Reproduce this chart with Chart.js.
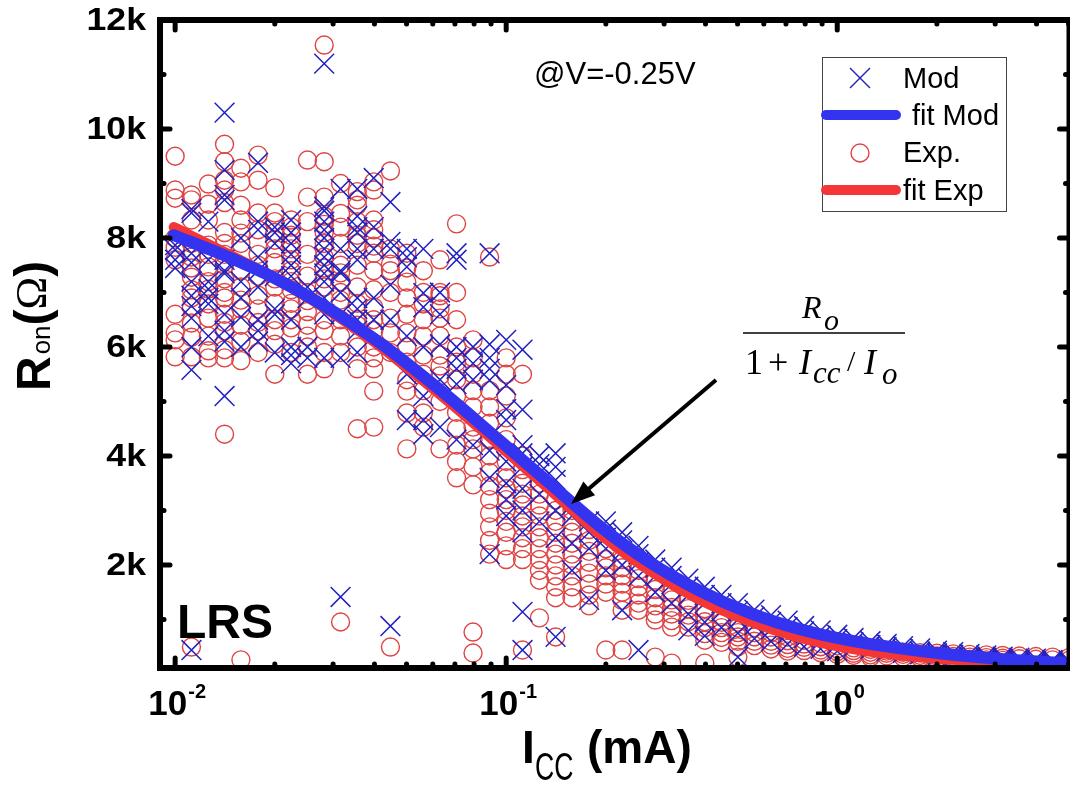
<!DOCTYPE html>
<html>
<head>
<meta charset="utf-8">
<script src="https://cdn.jsdelivr.net/npm/chart.js@4.4.1/dist/chart.umd.min.js"></script>
<style>
  html, body { margin: 0; padding: 0; background: #fff; overflow: hidden; }
  #wrap { width: 1085px; height: 785px; }
</style>
</head>
<body>
<div id="wrap"><canvas id="myChart" width="1085" height="785"></canvas></div>
<script>
// compliance currents (mA), one column of measurements each
const currents = [0.0100, 0.0112, 0.0126, 0.0141, 0.0158, 0.0178, 0.0200, 0.0224, 0.0251, 0.0282,
  0.0316, 0.0355, 0.0398, 0.0447, 0.0501, 0.0562, 0.0631, 0.0708, 0.0794, 0.0891,
  0.100, 0.112, 0.126, 0.141, 0.158, 0.178, 0.200, 0.224, 0.251, 0.282,
  0.316, 0.355, 0.398, 0.447, 0.501, 0.562, 0.631, 0.708, 0.794, 0.891,
  1.00, 1.12, 1.26, 1.41, 1.58, 1.78, 2.00, 2.24, 2.51, 2.82,
  3.16, 3.55, 3.98, 4.47, 5.01];

// Ron (ohm) of the model, per current column
const modR = [
  [7870, 7780, 7600, 7450],
  [8530, 8460, 7720, 7550, 7200, 6940, 6750, 6530, 6000, 5580, 440],
  [8300, 7600, 7200, 7060, 6900, 6790, 6200],
  [10300, 9250, 8790, 8700, 7600, 7400, 7350, 6600, 6300, 6100, 5100],
  [8000, 7200, 6900, 6550, 6000],
  [9380, 8300, 8150, 7650, 7400, 7100, 6500, 6300, 6100],
  [8200, 8100, 7900, 7300, 6700, 6600, 5900],
  [8330, 8100, 7900, 7700, 7500, 7300, 6500, 6000, 5850, 5700],
  [7100, 6900, 6000, 5800],
  [11200, 8570, 8500, 8300, 8150, 8000, 7800, 7650, 7500, 7350, 7200, 6900, 6600, 5800],
  [8900, 7800, 7400, 7360, 7000, 6600, 5800, 1413],
  [8900, 8400, 8200, 8100, 7800, 7600, 6900, 6700, 6500, 6300, 5900],
  [9100, 8200, 7800, 6900, 6500],
  [8660, 7930, 7800, 7140, 6500, 880],
  [7800, 7650, 7470, 6200, 5500, 4660],
  [7800, 6990, 6730, 6000, 5100, 4660, 4400],
  [7000, 6600, 6050, 5400, 4530],
  [7720, 7600, 6000, 5800, 5600, 5320, 4300],
  [6000, 5700, 5400, 4200],
  [7720, 6050, 5800, 5600, 5390, 4100, 3600, 2200],
  [6130, 5300, 4860, 4660, 3900, 3500, 3200, 2900],
  [5950, 4850, 4200, 4050, 3800, 3400, 3000, 2600, 1140, 440],
  [4000, 3850, 3690, 3300, 2800],
  [4050, 3800, 3560, 3000, 2500, 680],
  [3100, 2900, 2400, 1900],
  [2800, 2600, 2300, 1360],
  [2800, 2650, 2500, 2300, 1900],
  [2600, 2450, 2250, 2000, 1170],
  [2350, 2200, 2050, 1800, 440],
  [2100, 1950, 1800, 1500],
  [1950, 1800, 1650, 1300],
  [1750, 1600, 1450, 1100, 800],
  [1600, 1450, 1300, 950, 700],
  [1450, 1300, 1150, 850],
  [1300, 1150, 1000, 750, 310],
  [1180, 1050, 900, 650],
  [1080, 950, 820, 600],
  [980, 860, 740, 550],
  [880, 780, 660, 500],
  [800, 700, 600, 460],
  [720, 640, 550, 420],
  [660, 580, 500],
  [600, 530, 460],
  [550, 490, 420],
  [510, 450, 390],
  [470, 410, 360],
  [430, 380, 330],
  [400, 350, 300],
  [370, 320, 280],
  [340, 300, 260],
  [320, 280, 240],
  [300, 260, 230],
  [280, 240, 210],
  [260, 230, 200],
  [250, 220, 190]
];

// Ron (ohm) measured, per current column
const expR = [
  [9500, 8880, 8730, 8000, 7830, 7600, 6600, 6260, 6130, 5820],
  [8790, 8700, 8330, 7900, 7650, 7450, 7280, 7050, 6900, 6730, 6440, 6180, 5820, 495],
  [8990, 8620, 8330, 7870, 7700, 7470, 7200, 7060, 6790, 6530, 6200, 5930, 5800],
  [9720, 9400, 9060, 8880, 8650, 8100, 7900, 7700, 7500, 7250, 7000, 6900, 6600, 6450, 6300, 5950, 5800, 4400],
  [9280, 9030, 8600, 8330, 8090, 7900, 7400, 7100, 6860, 6700, 6400, 6100, 5750, 260],
  [9520, 9060, 8460, 8150, 7700, 7500, 7300, 6950, 6700, 6450, 6300, 5900],
  [8920, 8460, 8300, 8100, 7960, 7800, 7550, 7250, 7100, 6800, 6500, 6300, 6050, 5500],
  [8330, 8200, 8050, 7900, 7800, 7600, 7400, 7200, 7050, 6800, 6700, 6500, 6350, 5900],
  [9430, 8750, 8300, 7700, 7300, 7000, 6850, 6650, 6400, 6200, 6000, 5500],
  [11540, 9400, 8750, 8400, 8250, 8100, 7900, 7650, 7450, 7250, 7100, 6500, 6300, 5900, 5600],
  [9000, 8450, 8200, 7900, 7500, 7360, 7200, 7000, 6860, 6500, 6200, 5900, 954],
  [8850, 8700, 8600, 8300, 8050, 7900, 7500, 7100, 6800, 6500, 6400, 6000, 5600, 4500],
  [9030, 8880, 8330, 8150, 8000, 7850, 7720, 7400, 7050, 6730, 6500, 6300, 6000, 5800, 5600, 5190, 4530],
  [9230, 7800, 7520, 7400, 7000, 6530, 6260, 5900, 495],
  [7720, 7450, 7190, 6900, 6600, 6260, 6000, 5720, 5400, 5190, 4790, 4130],
  [7400, 7000, 6790, 6500, 6200, 5850, 5500, 5200, 4790, 4530],
  [7600, 7000, 6940, 6700, 6530, 6200, 5850, 5650, 5470, 5000, 4130],
  [8260, 7000, 6500, 6000, 5720, 5400, 5100, 4800, 4500, 4200, 3900, 3600],
  [6130, 5800, 5500, 5200, 4900, 4530, 4300, 4130, 3800, 3470, 770, 385],
  [7650, 5200, 4900, 4600, 4300, 4000, 3700, 3450, 3200, 2950, 2700, 2450, 2200],
  [5800, 5500, 5100, 4700, 4300, 3900, 3600, 3400, 3200, 3000, 2800, 2600, 2350, 2100],
  [5500, 4000, 3750, 3500, 3300, 3100, 2900, 2700, 2500, 2300, 2100, 440],
  [3500, 3300, 3100, 2900, 2700, 2500, 2300, 2100, 1900, 1720, 1030],
  [3200, 3000, 2800, 2600, 2400, 2200, 2000, 1800, 1600, 1400, 680],
  [3000, 2800, 2600, 2400, 2200, 2000, 1800, 1600, 1400],
  [2650, 2450, 2250, 2050, 1850, 1650, 1450, 1250],
  [2300, 2100, 1950, 1800, 1650, 1500, 440],
  [2100, 1950, 1800, 1650, 1500, 1350, 1170, 440],
  [1900, 1750, 1600, 1450, 1300, 1170],
  [1700, 1550, 1400, 1250, 1100, 990, 310],
  [1500, 1360, 1220, 1100, 980, 860, 200],
  [1350, 1200, 1080, 960, 860],
  [1200, 1080, 960, 850, 740, 620, 200],
  [1050, 950, 850, 760, 670, 580],
  [950, 850, 760, 680, 600, 500, 310],
  [850, 760, 680, 600, 520],
  [760, 680, 600, 530, 460],
  [680, 610, 540, 470, 420],
  [620, 550, 490, 430],
  [560, 500, 440, 390],
  [520, 460, 410, 360],
  [480, 430, 380, 340],
  [450, 400, 350, 310],
  [420, 380, 330],
  [400, 360, 310],
  [390, 340, 300],
  [380, 330, 290],
  [370, 320, 280],
  [360, 310, 270],
  [350, 300, 260],
  [340, 290, 250],
  [330, 280],
  [320, 270],
  [310, 260],
  [300, 250]
];

// fitted curves
const fitI = [0.0099, 0.0143, 0.0203, 0.0287, 0.0395, 0.0476, 0.0673, 0.0907, 0.135, 0.191,
  0.270, 0.381, 0.539, 0.763, 1.08, 1.53, 2.31, 4.63, 5.0];
const fitModR = [8050, 7664, 7242, 6728, 6171, 5809, 5075, 4404, 3505, 2720,
  2060, 1540, 1130, 830, 620, 475, 345, 205, 198];
const fitExpR = [8200, 7724, 7242, 6688, 6111, 5729, 4985, 4304, 3385, 2570,
  1900, 1370, 970, 670, 470, 345, 255, 170, 165];

// ticks
const yTicks = [2000, 4000, 6000, 8000, 10000, 12000];
const yTickLabels = ['2k', '4k', '6k', '8k', '10k', '12k'];
const yMinor = [1000, 3000, 5000, 7000, 9000, 11000];
const xTicks = [0.01, 0.1, 1];
const xTickExp = ['-2', '-1', '0'];
const xMinor = [0.02, 0.03, 0.04, 0.05, 0.06, 0.07, 0.08, 0.09,
  0.2, 0.3, 0.4, 0.5, 0.6, 0.7, 0.8, 0.9, 2, 3, 4, 5];

const SANS = 'Arial, "Liberation Sans", sans-serif';
const SERIF = '"Times New Roman", "Liberation Serif", serif';
const BLUE_LINE = '#3434f0';
const RED_LINE = '#f43636';
const BLUE_MARK = '#2222c0';
const RED_MARK = '#de4545';

function columnPoints(cols) {
  let pts = [];
  cols.forEach((list, i) => {
    list.forEach(r => pts.push({x: currents[i], y: r}));
  });
  return pts;
}

let ctx = document.getElementById('myChart');

// axes frame, inward ticks, labels, annotations and legend
const decor = {
  id: 'decor',
  afterDatasetsDraw(chart) {
    const c = chart.ctx;
    const a = chart.chartArea;
    const xs = chart.scales.x, ys = chart.scales.y;
    function seg(x1, y1, x2, y2) { c.beginPath(); c.moveTo(x1, y1); c.lineTo(x2, y2); c.stroke(); }

    c.save();
    c.strokeStyle = '#000';
    c.fillStyle = '#000';
    c.lineCap = 'round';
    c.lineWidth = 5;
    yTicks.forEach(v => {
      const y = ys.getPixelForValue(v);
      seg(a.left, y, a.left + 10, y);
      seg(a.right, y, a.right - 10, y);
    });
    yMinor.forEach(v => {
      const y = ys.getPixelForValue(v);
      seg(a.left, y, a.left + 4, y);
      seg(a.right, y, a.right - 4, y);
    });
    xTicks.forEach(v => {
      const x = xs.getPixelForValue(v);
      seg(x, a.bottom, x, a.bottom - 10);
      seg(x, a.top, x, a.top + 10);
    });
    xMinor.forEach(v => {
      if (v > xs.max) return;
      const x = xs.getPixelForValue(v);
      seg(x, a.bottom, x, a.bottom - 4);
      seg(x, a.top, x, a.top + 4);
    });
    c.lineCap = 'butt';
    c.lineWidth = 6;
    c.strokeRect(a.left, a.top, a.right - a.left, a.bottom - a.top);

    // y tick labels (slightly wide bold face)
    c.font = 'bold 31px ' + SANS;
    c.textAlign = 'right';
    c.textBaseline = 'middle';
    yTicks.forEach((v, i) => {
      c.save();
      c.translate(146, ys.getPixelForValue(v) + 1);
      c.scale(1.15, 1);
      c.fillText(yTickLabels[i], 0, 0);
      c.restore();
    });

    // x tick labels 10^n
    c.textAlign = 'left';
    c.textBaseline = 'alphabetic';
    xTicks.forEach((v, i) => {
      const x = xs.getPixelForValue(v);
      c.font = 'bold 35px ' + SANS;
      const w1 = c.measureText('10').width;
      c.font = 'bold 20px ' + SANS;
      const w2 = c.measureText(xTickExp[i]).width;
      const x0 = x - (w1 + w2 + 1) / 2 + 2;
      c.font = 'bold 35px ' + SANS;
      c.fillText('10', x0, 715);
      c.font = 'bold 20px ' + SANS;
      c.fillText(xTickExp[i], x0 + w1 + 1, 698);
    });

    // x title: I_CC (mA)
    c.font = 'bold 46px ' + SANS;
    c.fillText('I', 522, 763);
    c.save();
    c.translate(535, 780);
    c.scale(0.95, 1.4);
    c.font = '28px ' + SANS;
    c.fillText('CC', 0, 0);
    c.restore();
    c.font = 'bold 46px ' + SANS;
    c.fillText('(mA)', 587, 763);

    // y title: R_on(Ω)
    c.save();
    c.translate(50, 391);
    c.rotate(-Math.PI / 2);
    c.font = 'bold 48px ' + SANS;
    c.fillText('R', 0, 0);
    let px = c.measureText('R').width + 2;
    c.font = '26px ' + SANS;
    c.fillText('on', px, 0);
    px += c.measureText('on').width;
    c.font = 'bold 48px ' + SANS;
    c.fillText('(', px, -2);
    px += c.measureText('(').width;
    c.font = '44px ' + SERIF;
    c.fillText('\u03A9', px, -4);
    px += c.measureText('\u03A9').width;
    c.font = 'bold 48px ' + SANS;
    c.fillText(')', px, -2);
    c.restore();

    // annotations
    c.font = '31px ' + SANS;
    c.fillText('@V=-0.25V', 534, 84);
    c.font = 'bold 48px ' + SANS;
    c.fillText('LRS', 177, 638);

    // formula Ro / (1 + Icc / Io)
    c.font = 'italic 32px ' + SERIF;
    c.fillText('R', 802, 318);
    c.font = 'italic 30px ' + SERIF;
    c.fillText('o', 824, 330);
    c.lineWidth = 1.6;
    seg(743, 333, 905, 333);
    c.font = '36px ' + SERIF;
    c.fillText('1', 745, 374);
    c.fillText('+', 768, 374);
    c.font = 'italic 36px ' + SERIF;
    c.fillText('I', 799, 374);
    c.font = 'italic 31px ' + SERIF;
    c.fillText('cc', 813, 383);
    c.font = '30px ' + SERIF;
    c.fillText('/', 847, 371);
    c.font = 'italic 36px ' + SERIF;
    c.fillText('I', 864, 374);
    c.font = 'italic 31px ' + SERIF;
    c.fillText('o', 882, 384);

    // arrow
    const tx = 571, ty = 504, sx = 716, sy = 380;
    const ang = Math.atan2(ty - sy, tx - sx);
    c.lineWidth = 4;
    c.lineCap = 'butt';
    seg(sx, sy, tx - Math.cos(ang) * 18, ty - Math.sin(ang) * 18);
    c.beginPath();
    c.moveTo(tx, ty);
    c.lineTo(tx - Math.cos(ang) * 24 + Math.sin(ang) * 9, ty - Math.sin(ang) * 24 - Math.cos(ang) * 9);
    c.lineTo(tx - Math.cos(ang) * 24 - Math.sin(ang) * 9, ty - Math.sin(ang) * 24 + Math.cos(ang) * 9);
    c.closePath();
    c.fill();

    // legend
    c.fillStyle = '#fff';
    c.fillRect(822, 57, 184, 154);
    c.strokeStyle = '#444';
    c.lineWidth = 1;
    c.strokeRect(822.5, 57.5, 184, 154);
    c.strokeStyle = BLUE_MARK;
    c.lineWidth = 1.5;
    seg(850, 68, 870, 88);
    seg(850, 88, 870, 68);
    c.lineCap = 'round';
    c.lineWidth = 10;
    c.strokeStyle = BLUE_LINE;
    seg(826, 115, 896, 115);
    c.strokeStyle = RED_LINE;
    seg(826, 190, 896, 190);
    c.lineWidth = 1.4;
    c.strokeStyle = RED_MARK;
    c.beginPath();
    c.arc(860, 153, 9, 0, Math.PI * 2);
    c.stroke();
    c.fillStyle = '#000';
    c.font = '29px ' + SANS;
    c.fillText('Mod', 903, 88);
    c.fillText('fit Mod', 912, 125);
    c.fillText('Exp.', 903, 162);
    c.fillText('fit Exp', 903, 200);
    c.restore();
  }
};

let chart = new Chart(ctx, {
  type: 'scatter',
  data: {
    datasets: [
      {
        label: 'fit Mod',
        data: fitI.map((x, i) => ({x: x, y: fitModR[i]})),
        showLine: true,
        borderColor: BLUE_LINE,
        borderWidth: 12,
        borderCapStyle: 'round',
        borderJoinStyle: 'round',
        cubicInterpolationMode: 'monotone',
        pointRadius: 0,
        order: 0
      },
      {
        label: 'fit Exp',
        data: fitI.map((x, i) => ({x: x, y: fitExpR[i]})),
        showLine: true,
        borderColor: RED_LINE,
        borderWidth: 10,
        borderCapStyle: 'round',
        borderJoinStyle: 'round',
        cubicInterpolationMode: 'monotone',
        pointRadius: 0,
        order: 1
      },
      {
        label: 'Mod',
        data: columnPoints(modR),
        pointStyle: 'crossRot',
        pointRadius: 14,
        pointBorderColor: BLUE_MARK,
        pointBorderWidth: 1.5,
        order: 2
      },
      {
        label: 'Exp.',
        data: columnPoints(expR),
        pointStyle: 'circle',
        pointRadius: 9,
        pointBorderColor: RED_MARK,
        pointBackgroundColor: 'rgba(0,0,0,0)',
        pointBorderWidth: 1.4,
        order: 3
      }
    ]
  },
  options: {
    responsive: false,
    animation: false,
    layout: { padding: { left: 160, right: 12, top: 20, bottom: 117 } },
    plugins: {
      legend: { display: false },
      tooltip: { enabled: false }
    },
    scales: {
      x: { type: 'logarithmic', min: 0.009, max: 5.03, display: false },
      y: { type: 'linear', min: 110, max: 12000, display: false }
    }
  },
  plugins: [decor]
});
</script>
</body>
</html>
